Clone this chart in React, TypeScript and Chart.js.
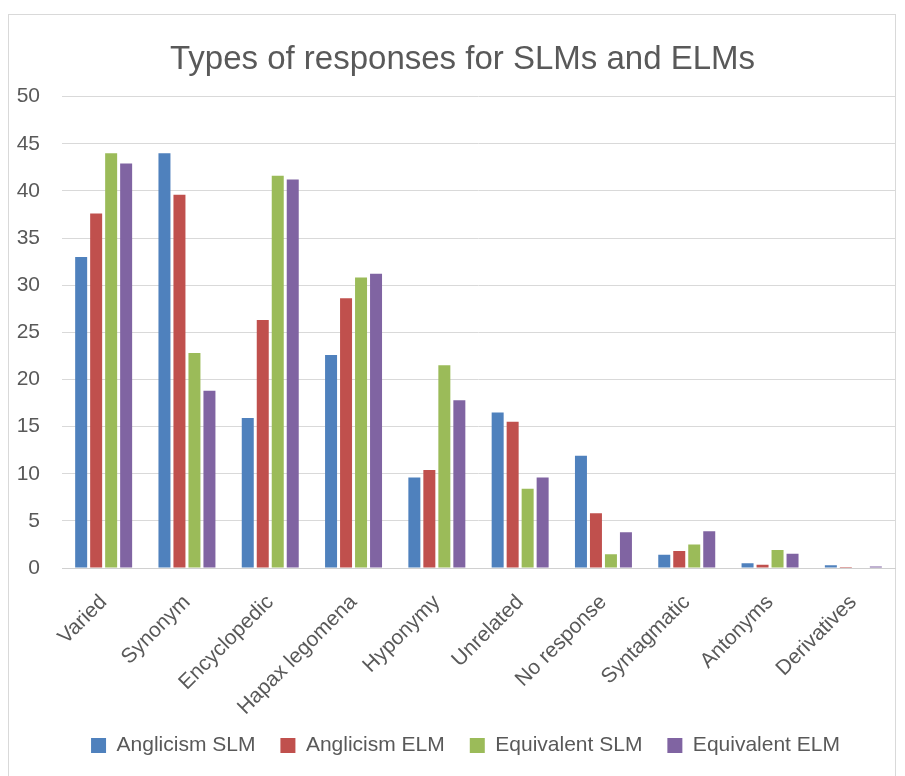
import React, { useEffect, useRef } from "react";
import { Chart, registerables } from "chart.js";

Chart.register(...registerables);

const categories = [
  "Varied",
  "Synonym",
  "Encyclopedic",
  "Hapax legomena",
  "Hyponymy",
  "Unrelated",
  "No response",
  "Syntagmatic",
  "Antonyms",
  "Derivatives",
];

const anglicismSLM = [33.0, 44.0, 15.9, 22.6, 9.6, 16.5, 11.9, 1.4, 0.5, 0.3];
const anglicismELM = [37.6, 39.6, 26.3, 28.6, 10.4, 15.5, 5.8, 1.8, 0.35, 0.1];
const equivalentSLM = [44.0, 22.8, 41.6, 30.8, 21.5, 8.4, 1.45, 2.5, 1.9, 0.05];
const equivalentELM = [42.9, 18.8, 41.2, 31.2, 17.8, 9.6, 3.8, 3.9, 1.5, 0.15];

const seriesNames = ["Anglicism SLM", "Anglicism ELM", "Equivalent SLM", "Equivalent ELM"];
const seriesColors = ["#4f81bd", "#c0504d", "#9bbb59", "#8064a2"];

const FONT = "'Liberation Sans', Arial, sans-serif";
const TEXT = "#595959";

const shiftBlocks = {
  id: "shiftBlocks",
  afterLayout(chart: any) {
    if (chart.legend) {
      chart.legend.left += 14;
      chart.legend.right += 14;
      chart.legend.top -= 8;
      chart.legend.bottom -= 8;
    }
    if (chart.titleBlock) {
      chart.titleBlock.left += 11;
      chart.titleBlock.right += 11;
    }
  },
};

export default function App() {
  const ref = useRef<HTMLCanvasElement | null>(null);

  useEffect(() => {
    if (!ref.current) return;
    const values = [anglicismSLM, anglicismELM, equivalentSLM, equivalentELM];
    const chart = new Chart(ref.current, {
      type: "bar",
      data: {
        labels: categories,
        datasets: values.map((v, i) => ({
          label: seriesNames[i],
          data: v,
          backgroundColor: seriesColors[i],
          borderWidth: 0,
          categoryPercentage: 0.72,
          barPercentage: 0.8,
        })),
      },
      plugins: [shiftBlocks],
      options: {
        responsive: false,
        animation: false,
        layout: { padding: { left: 8, right: 10, top: 40, bottom: 2 } },
        plugins: {
          title: {
            display: true,
            text: "Types of responses for SLMs and ELMs",
            color: TEXT,
            font: { family: FONT, size: 33, weight: "normal" },
            padding: { top: 0, bottom: 17 },
          },
          legend: {
            position: "bottom",
            labels: {
              color: TEXT,
              font: { family: FONT, size: 21 },
              boxWidth: 15,
              boxHeight: 15,
              padding: 25,
            },
          },
          tooltip: { enabled: false },
        },
        scales: {
          x: {
            grid: { display: false },
            border: { color: "#d0d0d0" },
            afterFit: (scale: any) => {
              scale.height = 150;
            },
            ticks: {
              color: TEXT,
              font: { family: FONT, size: 21 },
              maxRotation: 45,
              minRotation: 45,
              padding: 14,
              autoSkip: false,
            },
          },
          y: {
            min: 0,
            max: 50,
            afterFit: (scale: any) => {
              scale.width = 54;
            },
            grid: { color: "#d9d9d9", drawTicks: false },
            border: { display: false },
            ticks: {
              stepSize: 5,
              color: TEXT,
              font: { family: FONT, size: 21 },
              padding: 22,
            },
          },
        },
      },
    });
    return () => chart.destroy();
  }, []);

  return (
    <div style={{ position: "fixed", left: 0, top: 0, width: 905, height: 776, background: "#fff" }}>
      <div
        style={{
          position: "absolute",
          left: 8,
          top: 14,
          width: 888,
          height: 780,
          border: "1px solid #d9d9d9",
          boxSizing: "border-box",
        }}
      />
      <canvas ref={ref} width={905} height={776} style={{ position: "absolute", left: 0, top: 0 }} />
    </div>
  );
}
